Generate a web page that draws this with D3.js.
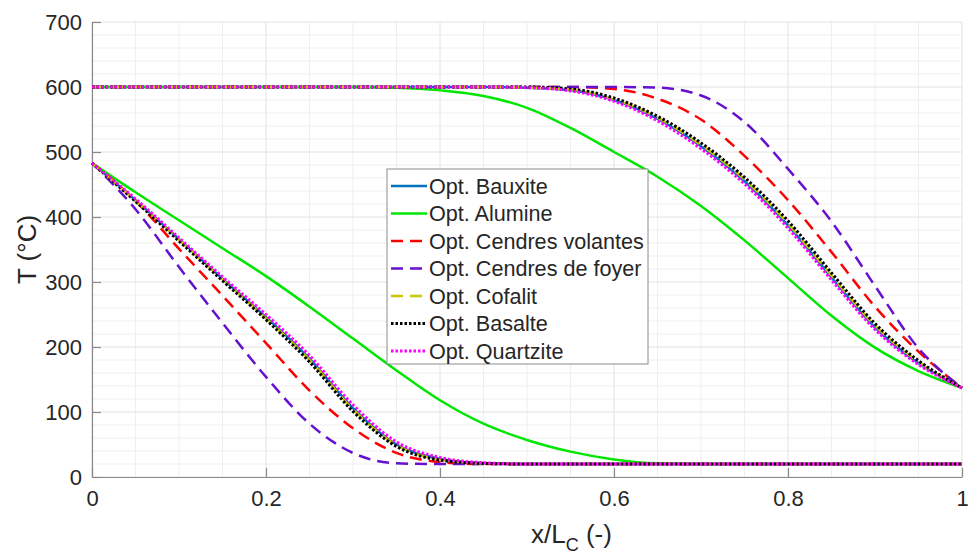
<!DOCTYPE html>
<html><head><meta charset="utf-8">
<script src="https://cdn.jsdelivr.net/npm/d3@7"></script>
<style>
body{margin:0;background:#fff}
svg{display:block}
text{font-family:"Liberation Sans",Arial,Helvetica,sans-serif;fill:#262626}
</style>
</head><body>
<svg id="chart" width="971" height="554"></svg>
<script>
// ---- data ----
const xGrid = [0,0.05,0.1,0.15,0.2,0.25,0.3,0.35,0.4,0.45,0.5,0.55,0.6,0.65,0.7,0.75,0.8,0.85,0.9,0.95,1];
const xTicks = [0,0.2,0.4,0.6,0.8,1];
const xTickLabels = ["0","0.2","0.4","0.6","0.8","1"];
const yTicks = [0,100,200,300,400,500,600,700];
const yTickLabels = ["0","100","200","300","400","500","600","700"];
const seriesNames = ["Opt. Bauxite","Opt. Alumine","Opt. Cendres volantes","Opt. Cendres de foyer","Opt. Cofalit","Opt. Basalte","Opt. Quartzite"];

const bauxiteHot   = [600,600,600,600,600,600,600,600,600,600,599,595,580,551,509,455,387,307,230,175,137];
const bauxiteCold  = [483,426,366,305,246,182,106,50,28,21,20,20,20,20,20,20,20,20,20,20,20];
const alumineHot   = [600,600,600,600,600,600,600,599,595,586,568,537,500,462,417,364,306,248,199,163,137];
const alumineCold  = [483,438,395,352,309,262,213,164,118,82,57,39,27,21,20,20,20,20,20,20,20];
const volantesHot  = [600,600,600,600,600,600,600,600,600,600,600,600,597,582,550,494,426,346,262,193,137];
const volantesCold = [483,425,351,279,206,133,75,37,23,20,20,20,20,20,20,20,20,20,20,20,20];
const foyerHot     = [600,600,600,600,600,600,600,600,600,600,600,600,600,599,587,546,474,393,294,198,137];
const foyerCold    = [483,412,323,237,154,82,37,21,20,20,20,20,20,20,20,20,20,20,20,20,20];
const cofalitHot   = [600,600,600,600,600,600,600,600,600,600,599,596,581,553,511,458,390,310,233,177,137];
const cofalitCold  = [483,425,365,304,244,180,104,49,27,21,20,20,20,20,20,20,20,20,20,20,20];
const basalteHot   = [600,600,600,600,600,600,600,600,600,600,600,597,583,555,514,461,394,314,236,179,137];
const basalteCold  = [483,424,363,302,242,177,101,47,26,21,20,20,20,20,20,20,20,20,20,20,20];
const quartziteHot = [600,600,600,600,600,600,600,600,600,600,599,594,578,548,505,451,383,303,227,173,137];
const quartziteCold= [483,428,368,308,250,187,111,54,30,22,20,20,20,20,20,20,20,20,20,20,20];

const hotSets  = [bauxiteHot, alumineHot, volantesHot, foyerHot, cofalitHot, basalteHot, quartziteHot];
const coldSets = [bauxiteCold, alumineCold, volantesCold, foyerCold, cofalitCold, basalteCold, quartziteCold];

// ---- styles ----
const colors = ["#0072BD","#00e600","#ff0000","#6610d0","#c8c800","#000000","#ff00ff"];
const dashes = [null,null,"12,7","12,7","12,7","2.5,2","2.5,2"];
const widths = [2.5,2.5,2.5,2.5,2.5,3,3];

const svg = d3.select("#chart");
const W = 971, H = 554;
const m = {left:92, right:9, top:22, bottom:77};
const x = d3.scaleLinear().domain([0,1]).range([m.left, W - m.right]);
const y = d3.scaleLinear().domain([0,700]).range([H - m.bottom, m.top]);

// minor grid
const g = svg.append("g");
const minorX = d3.range(0, 1.0001, 0.05).filter(v => Math.abs(v*5 - Math.round(v*5)) > 1e-6);
const minorY = d3.range(0, 701, 20).filter(v => v % 100 !== 0);
g.selectAll(".mx").data(minorX).join("line")
  .attr("x1", d=>x(d)).attr("x2", d=>x(d)).attr("y1", y(0)).attr("y2", y(700))
  .attr("stroke","#efefef").attr("stroke-width",1);
g.selectAll(".my").data(minorY).join("line")
  .attr("x1", x(0)).attr("x2", x(1)).attr("y1", d=>y(d)).attr("y2", d=>y(d))
  .attr("stroke","#efefef").attr("stroke-width",1);
// major grid
g.selectAll(".gx").data(xTicks).join("line")
  .attr("x1", d=>x(d)).attr("x2", d=>x(d)).attr("y1", y(0)).attr("y2", y(700))
  .attr("stroke","#e2e2e2").attr("stroke-width",1);
g.selectAll(".gy").data(yTicks).join("line")
  .attr("x1", x(0)).attr("x2", x(1)).attr("y1", d=>y(d)).attr("y2", d=>y(d))
  .attr("stroke","#e2e2e2").attr("stroke-width",1);

// axes
const xAxis = d3.axisBottom(x).tickValues(xTicks).tickFormat((d,i)=>xTickLabels[i]).tickSize(-9).tickPadding(13).tickSizeOuter(0);
const yAxis = d3.axisLeft(y).tickValues(yTicks).tickFormat((d,i)=>yTickLabels[i]).tickSize(-9).tickPadding(10).tickSizeOuter(0);
const gx = svg.append("g").attr("transform",`translate(0,${y(0)})`).call(xAxis);
const gy = svg.append("g").attr("transform",`translate(${x(0)},0)`).call(yAxis);
[gx,gy].forEach(a=>{
  a.select(".domain").attr("stroke","#8a8a8a").attr("stroke-width",1.2);
  a.selectAll(".tick line").attr("stroke","#8a8a8a").attr("stroke-width",1.2);
  a.selectAll(".tick text").attr("font-size",22).attr("font-family","'Liberation Sans',Arial,sans-serif").attr("fill","#262626");
});

// curves
const line = d3.line().x(d=>x(d[0])).y(d=>y(d[1])).curve(d3.curveMonotoneX);
const plot = svg.append("g");
seriesNames.forEach((name,i)=>{
  [hotSets[i], coldSets[i]].forEach(vals=>{
    const pts = xGrid.map((xv,k)=>[xv, vals[k]]);
    plot.append("path").attr("d", line(pts)).attr("fill","none")
      .attr("stroke", colors[i]).attr("stroke-width", widths[i])
      .attr("stroke-dasharray", dashes[i]).attr("stroke-linejoin","round");
  });
});

// legend
const lg = svg.append("g");
lg.append("rect").attr("x",387).attr("y",169).attr("width",261).attr("height",195)
  .attr("fill","#fff").attr("stroke","#8c8c8c").attr("stroke-width",1);
seriesNames.forEach((name,i)=>{
  const cy = 186 + i*27.5;
  lg.append("line").attr("x1",391).attr("x2",427).attr("y1",cy).attr("y2",cy)
    .attr("stroke",colors[i]).attr("stroke-width",widths[i]).attr("stroke-dasharray",dashes[i]);
  lg.append("text").attr("x",429).attr("y",cy).attr("dy","0.36em").attr("font-size",21.6).text(name);
});

// axis labels
svg.append("text").attr("transform",`translate(36,${(y(0)+y(700))/2}) rotate(-90)`)
  .attr("text-anchor","middle").attr("font-size",26).text("T (°C)");
const xl = svg.append("text").attr("x",531).attr("y",543).attr("font-size",26);
xl.append("tspan").text("x/L");
xl.append("tspan").attr("font-size",18).attr("dy",8).text("C");
xl.append("tspan").attr("dy",-8).text(" (-)");
</script>
</body></html>
